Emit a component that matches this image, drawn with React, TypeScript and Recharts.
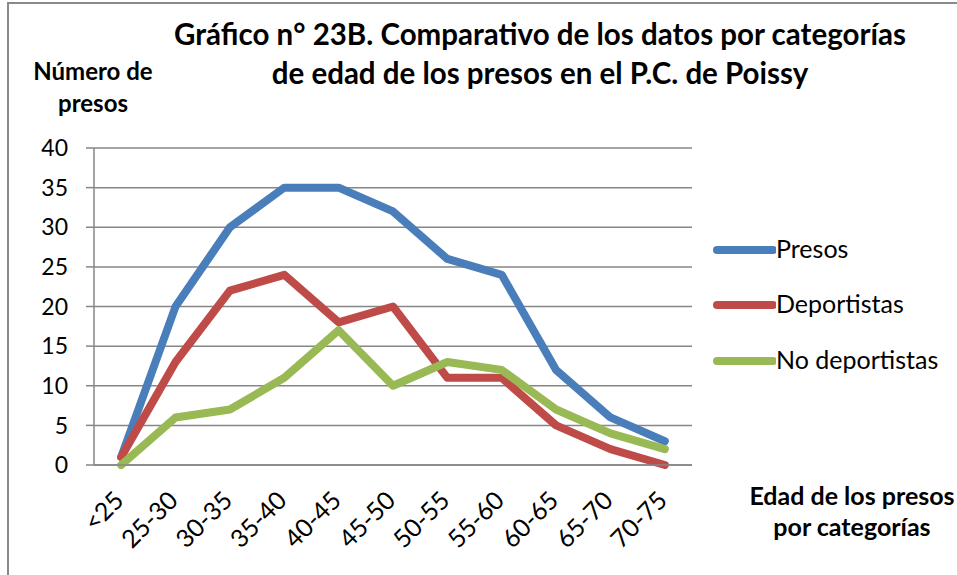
import React from "react";
import { LineChart, Line, XAxis, YAxis, CartesianGrid, Legend } from "recharts";

const categories = ["<25", "25-30", "30-35", "35-40", "40-45", "45-50", "50-55", "55-60", "60-65", "65-70", "70-75"];
const presos = [1, 20, 30, 35, 35, 32, 26, 24, 12, 6, 3];
const deportistas = [1, 13, 22, 24, 18, 20, 11, 11, 5, 2, 0];
const noDeportistas = [0, 6, 7, 11, 17, 10, 13, 12, 7, 4, 2];
const yTicks = [0, 5, 10, 15, 20, 25, 30, 35, 40];
const boundaryTicks = [0, 1, 2, 3, 4, 5, 6, 7, 8, 9, 10, 11];
const seriesOrder = ["Presos", "Deportistas", "No deportistas"];

const data = categories.map((c, i) => ({
  name: c,
  Presos: presos[i],
  Deportistas: deportistas[i],
  "No deportistas": noDeportistas[i],
}));

const FONT = "Lato, 'Open Sans', sans-serif";
const GRID = "#868686";

const LegendContent = (props: any) => {
  const payload = [...(props.payload || [])].sort(
    (a: any, b: any) => seriesOrder.indexOf(a.value) - seriesOrder.indexOf(b.value)
  );
  return (
    <div style={{ fontFamily: FONT, fontSize: 25, color: "#000" }}>
      {payload.map((p: any, i: number) => (
        <div key={i} style={{ display: "flex", alignItems: "center", height: 55.5 }}>
          <svg width={64} height={12} style={{ display: "block", flex: "none" }}>
            <line x1={5} y1={6} x2={61} y2={6} stroke={p.color} strokeWidth={8} strokeLinecap="round" />
          </svg>
          <span style={{ whiteSpace: "nowrap", position: "relative", top: -2 }}>{p.value}</span>
        </div>
      ))}
    </div>
  );
};

const XTick = (props: any) => {
  const { x, y, payload } = props;
  return (
    <g transform={`translate(${x + 4},${y + 37})`}>
      <text x={0} y={0} transform="rotate(-45)" textAnchor="end" fill="#000" fontSize={25} fontFamily={FONT}>
        {payload.value}
      </text>
    </g>
  );
};

export default function App() {
  return (
    <div style={{ position: "absolute", left: 0, top: 0, width: 957, height: 575, background: "#fff", overflow: "hidden" }}>
      <div style={{ position: "absolute", left: 7, top: 2, width: 1200, height: 1200, borderLeft: "2px solid #8a8a8a", borderTop: "2px solid #8a8a8a" }} />
      <div style={{ position: "absolute", left: 0, top: 0 }}>
        <LineChart width={957} height={575} data={data} margin={{ top: 148, right: 265, bottom: 0, left: 0 }}>
          <CartesianGrid horizontal={true} vertical={false} stroke={GRID} strokeWidth={1.5} />
          <XAxis
            xAxisId="bounds"
            type="number"
            domain={[0, 11]}
            ticks={boundaryTicks}
            tick={false}
            axisLine={false}
            tickLine={{ stroke: GRID, strokeWidth: 1.5 }}
            tickSize={7}
            height={0}
            allowDataOverflow
          />
          <XAxis
            xAxisId="cat"
            dataKey="name"
            scale="band"
            interval={0}
            height={110}
            axisLine={{ stroke: GRID, strokeWidth: 1.5 }}
            tickLine={false}
            tickSize={0}
            tickMargin={0}
            tick={<XTick />}
          />
          <YAxis
            domain={[0, 40]}
            ticks={yTicks}
            width={94}
            axisLine={{ stroke: GRID, strokeWidth: 1.5 }}
            tickLine={{ stroke: GRID, strokeWidth: 1.5 }}
            tickSize={8}
            tickMargin={18}
            tick={{ fill: "#000", fontSize: 23, fontFamily: FONT }}
          />
          <Legend
            layout="vertical"
            align="center"
            verticalAlign="middle"
            content={<LegendContent />}
            wrapperStyle={{ left: 712, top: 222, width: 240 }}
          />
          <Line xAxisId="cat" type="linear" dataKey="Presos" stroke="#4A7EBB" strokeWidth={8} dot={false} strokeLinejoin="round" strokeLinecap="round" isAnimationActive={false} />
          <Line xAxisId="cat" type="linear" dataKey="Deportistas" stroke="#BE4B48" strokeWidth={8} dot={false} strokeLinejoin="round" strokeLinecap="round" isAnimationActive={false} />
          <Line xAxisId="cat" type="linear" dataKey="No deportistas" stroke="#98B954" strokeWidth={8} dot={false} strokeLinejoin="round" strokeLinecap="round" isAnimationActive={false} />
        </LineChart>
      </div>
      <div style={{ position: "absolute", left: 140, top: 14, width: 800, textAlign: "center", fontFamily: FONT, fontWeight: 700, fontSize: 29.5, lineHeight: "39px", color: "#000", whiteSpace: "nowrap" }}>
        Gráfico n° 23B. Comparativo de los datos por categorías
        <br />
        de edad de los presos en el P.C. de Poissy
      </div>
      <div style={{ position: "absolute", left: 13, top: 55, width: 160, textAlign: "center", fontFamily: FONT, fontWeight: 700, fontSize: 24, lineHeight: "32px", color: "#000" }}>
        Número de
        <br />
        presos
      </div>
      <div style={{ position: "absolute", left: 737, top: 480, width: 230, textAlign: "center", fontFamily: FONT, fontWeight: 700, fontSize: 25, lineHeight: "31px", color: "#000", whiteSpace: "nowrap" }}>
        Edad de los presos
        <br />
        por categorías
      </div>
    </div>
  );
}
